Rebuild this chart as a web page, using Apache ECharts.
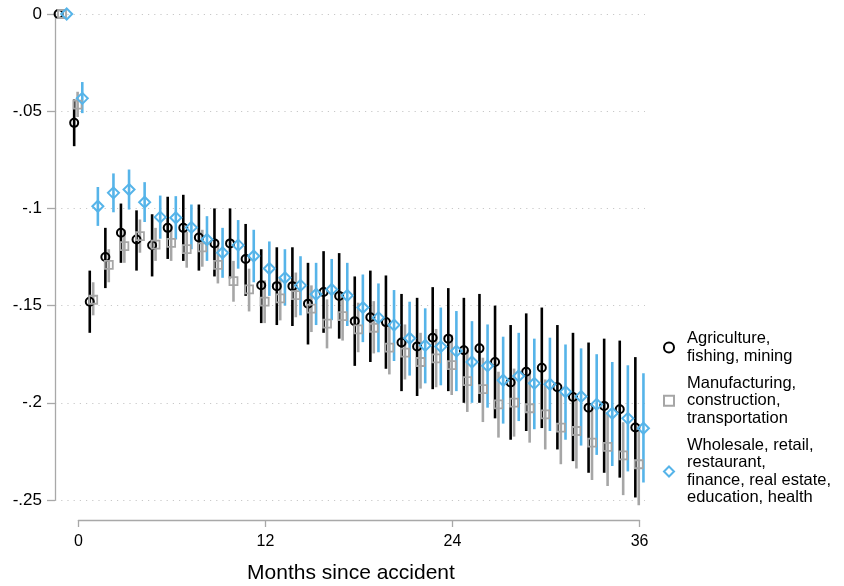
<!DOCTYPE html>
<html>
<head>
<meta charset="utf-8">
<script src="https://cdn.jsdelivr.net/npm/echarts@6/dist/echarts.min.js"></script>
<style>
  html, body { margin: 0; padding: 0; background: #fff; }
  #main { width: 844px; height: 586px; }
</style>
</head>
<body>
<div id="main"></div>
<script>
// 月份（事故后）
var months = [-1, 0, 1, 2, 3, 4, 5, 6, 7, 8, 9, 10, 11, 12, 13, 14, 15, 16, 17, 18,
    19, 20, 21, 22, 23, 24, 25, 26, 27, 28, 29, 30, 31, 32, 33, 34, 35, 36];
var xTicks = [0, 12, 24, 36];
var yTicks = [0, -0.05, -0.1, -0.15, -0.2, -0.25];
var yTickLabels = ['0', '-.05', '-.1', '-.15', '-.2', '-.25'];

// Agriculture, fishing, mining
var agriEst = [0, -0.056, -0.148, -0.125, -0.1125, -0.116, -0.119, -0.110, -0.110, -0.115,
    -0.118, -0.118, -0.126, -0.1395, -0.140, -0.140, -0.149, -0.143, -0.145, -0.158,
    -0.156, -0.1585, -0.169, -0.171, -0.1665, -0.167, -0.173, -0.172, -0.179, -0.1896,
    -0.184, -0.182, -0.192, -0.197, -0.2025, -0.2016, -0.2033, -0.2127];
var agriHi = [0, -0.044, -0.132, -0.110, -0.0975, -0.101, -0.103, -0.094, -0.093, -0.098,
    -0.100, -0.100, -0.108, -0.121, -0.120, -0.120, -0.128, -0.122, -0.123, -0.135,
    -0.132, -0.1345, -0.144, -0.146, -0.1405, -0.141, -0.146, -0.144, -0.150, -0.160,
    -0.154, -0.151, -0.160, -0.164, -0.169, -0.167, -0.168, -0.1765];
var agriLo = [0, -0.068, -0.164, -0.141, -0.128, -0.132, -0.135, -0.126, -0.127, -0.132,
    -0.135, -0.136, -0.145, -0.159, -0.160, -0.1605, -0.170, -0.164, -0.167, -0.181,
    -0.179, -0.1825, -0.194, -0.1965, -0.193, -0.194, -0.200, -0.200, -0.208, -0.219,
    -0.2145, -0.213, -0.224, -0.230, -0.236, -0.236, -0.2385, -0.2487];

// Manufacturing, construction, transportation
var manuEst = [0, -0.0466, -0.147, -0.129, -0.1194, -0.1143, -0.1186, -0.1177, -0.121, -0.120,
    -0.129, -0.1374, -0.1417, -0.148, -0.1463, -0.1446, -0.1516, -0.1593, -0.1554, -0.1622,
    -0.1614, -0.1716, -0.1742, -0.179, -0.1771, -0.1806, -0.1888, -0.193, -0.2008, -0.1999,
    -0.2028, -0.206, -0.2128, -0.2145, -0.2205, -0.2227, -0.227, -0.2316];
var manuHi = [0, -0.040, -0.138, -0.121, -0.111, -0.1057, -0.110, -0.109, -0.112, -0.111,
    -0.119, -0.127, -0.131, -0.137, -0.1357, -0.133, -0.1396, -0.1468, -0.143, -0.1485,
    -0.1477, -0.159, -0.1597, -0.164, -0.162, -0.165, -0.173, -0.1768, -0.184, -0.1824,
    -0.185, -0.188, -0.195, -0.197, -0.2025, -0.205, -0.210, -0.211];
var manuLo = [0, -0.053, -0.155, -0.138, -0.128, -0.1228, -0.127, -0.127, -0.1305, -0.130,
    -0.1386, -0.148, -0.153, -0.159, -0.1576, -0.156, -0.1636, -0.172, -0.168, -0.174,
    -0.1746, -0.1854, -0.188, -0.1927, -0.192, -0.196, -0.2047, -0.2099, -0.2179, -0.2174,
    -0.2205, -0.224, -0.2316, -0.2338, -0.2397, -0.2428, -0.2475, -0.2527];

// Wholesale, retail, restaurant, finance, real estate, education, health
var wholeEst = [0, -0.0434, -0.0989, -0.092, -0.0903, -0.0968, -0.1045, -0.1048, -0.1098, -0.116,
    -0.1228, -0.1189, -0.1245, -0.1309, -0.1357, -0.1396, -0.1442, -0.1417, -0.1448, -0.151,
    -0.1562, -0.160, -0.1668, -0.1705, -0.1711, -0.1734, -0.179, -0.181, -0.1884, -0.1862,
    -0.190, -0.1905, -0.1943, -0.1968, -0.2008, -0.2054, -0.208, -0.2131];
var wholeHi = [0, -0.035, -0.089, -0.082, -0.080, -0.0865, -0.0934, -0.0937, -0.098, -0.104,
    -0.110, -0.106, -0.111, -0.117, -0.121, -0.1246, -0.128, -0.126, -0.128, -0.134,
    -0.1386, -0.142, -0.148, -0.1514, -0.151, -0.1528, -0.158, -0.1597, -0.166, -0.164,
    -0.167, -0.1665, -0.170, -0.172, -0.175, -0.179, -0.1807, -0.1848];
var wholeLo = [0, -0.051, -0.109, -0.102, -0.1006, -0.107, -0.1156, -0.116, -0.121, -0.127,
    -0.1357, -0.131, -0.138, -0.145, -0.150, -0.155, -0.160, -0.1575, -0.1605, -0.1688,
    -0.174, -0.1785, -0.186, -0.190, -0.191, -0.194, -0.200, -0.2025, -0.2107, -0.2094,
    -0.2136, -0.2145, -0.219, -0.222, -0.2268, -0.2325, -0.2353, -0.241];

var names = ['Agriculture,\nfishing, mining',
    'Manufacturing,\nconstruction,\ntransportation',
    'Wholesale, retail,\nrestaurant,\nfinance, real estate,\neducation, health'];

var FONT = 'Liberation Sans, Arial, Helvetica, sans-serif';
var BLUE = '#56b4e9';
var GRAY = '#a6a6a6';
var BLACK = '#000000';
var AXIS = '#a8a8a8';

// 绘图区布局
var xMin = -1.5, xMax = 36.35;
var plotLeft = 55, plotWidth = 590;
var pxPerMonth = plotWidth / (xMax - xMin);
var axisLeft = plotLeft + (0 - xMin) * pxPerMonth;
var axisWidth = 36 * pxPerMonth;

var chart = echarts.init(document.getElementById('main'));

function pts(est, dx) {
    return months.map(function (m, i) { return [m + dx, est[i]]; });
}
function bars(lo, hi, dx) {
    return months.map(function (m, i) { return [m + dx, lo[i], hi[i]]; });
}
function barSeries(lo, hi, dx, color) {
    return {
        type: 'custom',
        silent: true,
        data: bars(lo, hi, dx),
        encode: { x: 0, y: [1, 2] },
        z: 2,
        renderItem: function (params, api) {
            var p1 = api.coord([api.value(0), api.value(1)]);
            var p2 = api.coord([api.value(0), api.value(2)]);
            return {
                type: 'line',
                shape: { x1: p1[0], y1: p1[1], x2: p2[0], y2: p2[1] },
                style: { stroke: color, lineWidth: 2.6 }
            };
        }
    };
}
function markSeries(name, est, dx, symbol, size, color, bw) {
    return {
        name: name,
        type: 'scatter',
        symbol: symbol,
        symbolSize: size,
        z: 3,
        data: pts(est, dx),
        itemStyle: { color: 'rgba(0,0,0,0)', borderColor: color, borderWidth: bw, opacity: 1 }
    };
}

var option = {
    animation: false,
    backgroundColor: '#fff',
    grid: [
        { left: plotLeft, top: 14, width: plotWidth, height: 486 },
        { left: axisLeft, top: 519, width: axisWidth, height: 1 }
    ],
    xAxis: [
        { gridIndex: 0, type: 'value', min: xMin, max: xMax, show: false, splitLine: { show: false } },
        {
            gridIndex: 1, type: 'value', min: 0, max: 36, interval: 12, position: 'bottom',
            axisLine: { show: true, onZero: false, lineStyle: { color: AXIS, width: 1.3 } },
            axisTick: { show: true, length: 7, lineStyle: { color: AXIS, width: 1.3 } },
            axisLabel: { show: true, margin: 14, color: '#000', fontSize: 16, fontFamily: FONT },
            splitLine: { show: false }
        }
    ],
    yAxis: [
        {
            gridIndex: 0, type: 'value', min: -0.25, max: 0, interval: 0.05,
            axisLine: { show: true, onZero: false, lineStyle: { color: AXIS, width: 1.3 } },
            axisTick: { show: true, length: 8, lineStyle: { color: AXIS, width: 1.3 } },
            axisLabel: {
                margin: 13, color: '#000', fontSize: 17, fontFamily: FONT,
                formatter: function (v) {
                    for (var i = 0; i < yTicks.length; i++) {
                        if (Math.abs(v - yTicks[i]) < 1e-9) return yTickLabels[i];
                    }
                    return '';
                }
            },
            splitLine: { show: true, lineStyle: { color: '#c8c8c8', width: 1, type: [1.2, 5] } }
        },
        { gridIndex: 1, type: 'value', min: 0, max: 1, show: false }
    ],
    legend: {
        orient: 'vertical',
        left: 658,
        top: 325,
        itemWidth: 10,
        itemHeight: 10,
        itemGap: 9.5,
        data: names,
        textStyle: { color: '#000', fontSize: 16.5, lineHeight: 17.5, fontFamily: FONT, padding: [0, 0, 0, 8] }
    },
    graphic: [{
        type: 'text',
        x: 351,
        y: 573,
        style: {
            text: 'Months since accident',
            fill: '#000',
            font: '21px ' + FONT,
            textAlign: 'center',
            textVerticalAlign: 'middle'
        }
    }],
    series: [
        barSeries(agriLo, agriHi, -0.27, BLACK),
        barSeries(manuLo, manuHi, -0.05, GRAY),
        barSeries(wholeLo, wholeHi, 0.25, BLUE),
        markSeries(names[0], agriEst, -0.27, 'circle', 8, BLACK, 2),
        markSeries(names[1], manuEst, -0.05, 'rect', 8, GRAY, 1.8),
        markSeries(names[2], wholeEst, 0.25, 'diamond', 11, BLUE, 2),
        { type: 'scatter', xAxisIndex: 1, yAxisIndex: 1, data: [], silent: true }
    ]
};

chart.setOption(option);
</script>
</body>
</html>
